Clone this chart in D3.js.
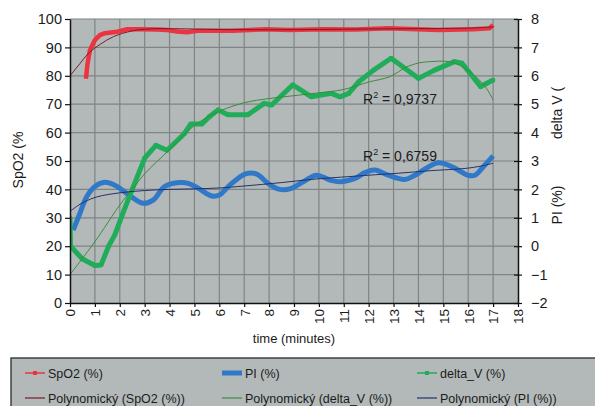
<!DOCTYPE html>
<html>
<head>
<meta charset="utf-8">
<script src="https://cdn.jsdelivr.net/npm/d3@7/dist/d3.min.js"></script>
<style>
  html, body { margin: 0; padding: 0; background: #ffffff; }
  svg { display: block; font-family: "Liberation Sans", Arial, sans-serif; }
</style>
</head>
<body>
<svg id="chart" width="595" height="406"></svg>
<script>
// Time axis (minutes)
const xTicks = d3.range(0, 19);
const leftTicks = d3.range(0, 101, 10);
const rightTicks = d3.range(-2, 9, 1);

// SpO2 (%) – left axis
const spo2Time = [0.64, 0.7, 0.8, 1.0, 1.2, 1.4, 1.9, 2.3, 2.8, 3.5, 3.9, 4.3, 4.7, 5.2, 6.5, 7.9, 8.8, 10.2, 11.5, 12.8, 14.8, 16.2, 16.85, 17.0];
const spo2Values = [79, 84, 89, 92.6, 94.3, 95, 95.5, 96.4, 96.4, 96.3, 96.1, 95.6, 95.3, 95.9, 95.9, 96.4, 96.1, 96.4, 96.3, 96.7, 96.1, 96.4, 96.7, 97.9];

// PI (%) – right axis
const piTime = [0.13, 0.4, 0.67, 1.0, 1.4, 1.8, 2.28, 2.94, 3.35, 3.8, 4.42, 4.75, 5.15, 5.7, 6.0, 6.36, 7.03, 7.5, 7.96, 8.43, 8.9, 9.37, 9.9, 10.44, 10.84, 11.45, 11.85, 12.25, 12.78, 13.45, 13.86, 14.79, 15.33, 16.0, 16.27, 16.67, 17.0];
const piValues = [0.57, 1.16, 1.74, 2.1, 2.25, 2.15, 1.86, 1.51, 1.63, 2.1, 2.24, 2.21, 2.04, 1.77, 1.8, 2.1, 2.54, 2.54, 2.21, 2.0, 2.04, 2.27, 2.5, 2.33, 2.27, 2.39, 2.59, 2.68, 2.5, 2.35, 2.5, 2.94, 2.8, 2.5, 2.5, 2.86, 3.18];

// delta_V (%) – right axis
const dvTime = [0, 0.02, 0.5, 1.0, 1.25, 1.55, 1.8, 2.1, 2.5, 3.0, 3.45, 3.9, 4.6, 4.85, 5.3, 5.6, 5.95, 6.35, 7.15, 7.8, 8.1, 8.95, 9.7, 10.5, 10.85, 11.2, 11.6, 12.2, 12.9, 14.0, 14.65, 15.45, 15.75, 16.5, 16.75, 17.0];
const dvValues = [1.0, 0.0, -0.45, -0.68, -0.66, 0.0, 0.4, 1.1, 2.0, 3.1, 3.55, 3.38, 3.97, 4.3, 4.3, 4.56, 4.8, 4.63, 4.63, 5.03, 4.97, 5.68, 5.26, 5.38, 5.26, 5.38, 5.79, 6.2, 6.62, 5.91, 6.2, 6.5, 6.44, 5.62, 5.74, 5.85];

// Polynomial trendlines
const spo2TrendTime = [0, 0.4, 0.75, 1.2, 1.75, 2.5, 3.2, 4, 6, 8, 10, 12, 14, 16, 17];
const spo2TrendValues = [80, 84.3, 88, 91, 93.8, 95.8, 96.5, 96.6, 96.3, 96.2, 96.3, 96.5, 96.6, 96.8, 97.2];
const dvTrendTime = [0, 1, 2, 2.5, 3, 4, 5, 6, 7, 8, 9, 10, 11, 12, 12.85, 13.5, 14, 14.5, 15.2, 15.7, 16.3, 16.7, 17];
const dvTrendValues = [-1, 0.16, 1.45, 2.0, 2.55, 3.4, 4.25, 4.75, 5.05, 5.2, 5.3, 5.4, 5.52, 5.78, 5.97, 6.3, 6.45, 6.5, 6.5, 6.35, 5.97, 5.6, 5.15];
const piTrendTime = [0, 0.3, 0.6, 1.1, 2, 3, 4, 5, 6, 7, 8.5, 9.8, 11.2, 12, 13.2, 14.5, 15.9, 16.5, 17];
const piTrendValues = [1.22, 1.42, 1.57, 1.74, 1.88, 1.96, 2.0, 2.02, 2.05, 2.12, 2.24, 2.36, 2.45, 2.5, 2.57, 2.66, 2.74, 2.82, 2.92];

const r2Labels = ["0,9737", "0,6759"];

const legendItems = [
  ["SpO2 (%)", "PI (%)", "delta_V (%)"],
  ["Polynomický (SpO2 (%))", "Polynomický (delta_V (%))", "Polynomický (PI (%))"]
];

const svg = d3.select("#chart");
const plotLeft = 70, plotRight = 518, plotTop = 19, plotBottom = 303;

const x = d3.scaleLinear().domain([0, 18]).range([plotLeft, plotRight]);
const yL = d3.scaleLinear().domain([0, 100]).range([plotBottom, plotTop]);
const yR = d3.scaleLinear().domain([-2, 8]).range([plotBottom, plotTop]);

const colors = {
  spo2: "#ec3340", pi: "#2f79c8", dv: "#20ad5a",
  spo2Trend: "#7b1b2b", dvTrend: "#3c8c3c", piTrend: "#24306e",
  plotBg: "#b3b9b9", grid: "#7f8484", text: "#1b1b1b"
};

// Plot background
svg.append("rect").attr("x", plotLeft).attr("y", plotTop)
  .attr("width", plotRight - plotLeft).attr("height", plotBottom - plotTop)
  .attr("fill", colors.plotBg);

// Gridlines
svg.append("g").selectAll("line").data(xTicks.slice(1, -1)).join("line")
  .attr("x1", d => x(d)).attr("x2", d => x(d))
  .attr("y1", plotTop).attr("y2", plotBottom)
  .attr("stroke", colors.grid).attr("stroke-width", 1.2);
svg.append("g").selectAll("line").data(leftTicks.slice(1)).join("line")
  .attr("x1", plotLeft).attr("x2", plotRight)
  .attr("y1", d => yL(d)).attr("y2", d => yL(d))
  .attr("stroke", colors.grid).attr("stroke-width", 1.2);

svg.append("defs").append("clipPath").attr("id", "plotClip")
  .append("rect").attr("x", plotLeft).attr("y", plotTop - 4)
  .attr("width", plotRight - plotLeft).attr("height", plotBottom - plotTop + 4);

const plot = svg.append("g").attr("clip-path", "url(#plotClip)");

const zipPts = (ts, vs) => ts.map((t, i) => [t, vs[i]]);

const lineL = d3.line().x(d => x(d[0])).y(d => yL(d[1]));
const lineR = d3.line().x(d => x(d[0])).y(d => yR(d[1]));
const smoothR = d3.line().x(d => x(d[0])).y(d => yR(d[1])).curve(d3.curveCatmullRom.alpha(0.5));
const smoothL = d3.line().x(d => x(d[0])).y(d => yL(d[1])).curve(d3.curveCatmullRom.alpha(0.5));

// Measured series
plot.append("path").datum(zipPts(spo2Time, spo2Values))
  .attr("d", lineL).attr("fill", "none")
  .attr("stroke", colors.spo2).attr("stroke-width", 4.5).attr("stroke-linejoin", "round");

plot.append("path").datum(zipPts(piTime, piValues))
  .attr("d", smoothR).attr("fill", "none")
  .attr("stroke", colors.pi).attr("stroke-width", 5).attr("stroke-linejoin", "round");

const dvPts = zipPts(dvTime, dvValues);
plot.append("path").datum(dvPts)
  .attr("d", lineR).attr("fill", "none")
  .attr("stroke", colors.dv).attr("stroke-width", 5).attr("stroke-linejoin", "round");
plot.append("g").selectAll("rect").data(dvPts).join("rect")
  .attr("x", d => x(d[0]) - 2).attr("y", d => yR(d[1]) - 2)
  .attr("width", 4).attr("height", 4).attr("fill", colors.dv);

// Trendlines
plot.append("path").datum(zipPts(spo2TrendTime, spo2TrendValues))
  .attr("d", smoothL).attr("fill", "none")
  .attr("stroke", colors.spo2Trend).attr("stroke-width", 1);
plot.append("path").datum(zipPts(dvTrendTime, dvTrendValues))
  .attr("d", smoothR).attr("fill", "none")
  .attr("stroke", colors.dvTrend).attr("stroke-width", 1);
plot.append("path").datum(zipPts(piTrendTime, piTrendValues))
  .attr("d", smoothR).attr("fill", "none")
  .attr("stroke", colors.piTrend).attr("stroke-width", 1);

// Axes
const axisStyle = g => {
  g.select(".domain").attr("stroke", "#111").attr("stroke-width", 1.5);
  g.selectAll(".tick line").attr("stroke", "#111").attr("stroke-width", 1.2);
  g.selectAll("text").attr("fill", colors.text).attr("font-family", "Liberation Sans, Arial, sans-serif");
};

svg.append("g").attr("transform", `translate(${plotLeft},0)`)
  .call(d3.axisLeft(yL).tickValues(leftTicks).tickSize(5).tickPadding(3).tickSizeOuter(0))
  .call(axisStyle)
  .selectAll("text").attr("font-size", 14.5);

const rightAxis = svg.append("g").attr("transform", `translate(${plotRight},0)`)
  .call(d3.axisRight(yR).tickValues(rightTicks).tickSize(4).tickPadding(9).tickSizeOuter(0))
  .call(axisStyle);
rightAxis.selectAll("text").attr("font-size", 14.5);
rightAxis.selectAll(".tick").append("line")
  .attr("x1", -4).attr("x2", 0).attr("stroke", "#111").attr("stroke-width", 1.2);

const bottomAxis = svg.append("g").attr("transform", `translate(0,${plotBottom})`)
  .call(d3.axisBottom(x).tickValues(xTicks).tickSize(4).tickSizeOuter(0))
  .call(axisStyle);
bottomAxis.selectAll("text")
  .attr("font-size", 13.5)
  .attr("transform", "rotate(-90)")
  .attr("x", -6).attr("y", 0).attr("dy", "0.36em")
  .attr("text-anchor", "end");

// Axis titles
svg.append("text").attr("transform", "translate(23,160) rotate(-90)")
  .attr("text-anchor", "middle").attr("font-size", 14).attr("fill", colors.text)
  .text("SpO2 (%");
svg.append("text").attr("transform", "translate(562,113) rotate(-90)")
  .attr("text-anchor", "middle").attr("font-size", 14).attr("fill", colors.text)
  .text("delta V (");
svg.append("text").attr("transform", "translate(562,205) rotate(-90)")
  .attr("text-anchor", "middle").attr("font-size", 14).attr("fill", colors.text)
  .text("PI (%)");
svg.append("text").attr("x", x(9)).attr("y", 343)
  .attr("text-anchor", "middle").attr("font-size", 13).attr("fill", colors.text)
  .text("time (minutes)");

// R² annotations
const r2Pos = [[363, 104], [363, 161]];
r2Labels.forEach((v, i) => {
  const t = svg.append("text").attr("x", r2Pos[i][0]).attr("y", r2Pos[i][1])
    .attr("font-size", 14).attr("fill", colors.text);
  t.append("tspan").text("R");
  t.append("tspan").attr("font-size", 9).attr("dy", -6).text("2");
  t.append("tspan").attr("dy", 6).text(" = " + v);
});

// Legend
const legend = svg.append("g");
legend.append("rect").attr("x", 11).attr("y", 358).attr("width", 600).attr("height", 60)
  .attr("fill", colors.plotBg).attr("stroke", "#2a2a2a").attr("stroke-width", 1.3);

const legendCols = [25, 222, 417];
const legendRows = [373, 398];
const legendStyles = [
  [{ c: colors.spo2, w: 1.5, m: true }, { c: colors.pi, w: 5, m: false }, { c: colors.dv, w: 1.5, m: true }],
  [{ c: colors.spo2Trend, w: 1.2 }, { c: colors.dvTrend, w: 1.2 }, { c: colors.piTrend, w: 1.2 }]
];
legendItems.forEach((row, r) => {
  row.forEach((label, c) => {
    const gx = legendCols[c], gy = legendRows[r];
    const st = legendStyles[r][c];
    legend.append("line").attr("x1", gx).attr("x2", gx + 20).attr("y1", gy).attr("y2", gy)
      .attr("stroke", st.c).attr("stroke-width", st.w);
    if (st.m) {
      legend.append("rect").attr("x", gx + 8).attr("y", gy - 2).attr("width", 4).attr("height", 4)
        .attr("fill", st.c);
    }
    legend.append("text").attr("x", gx + 23).attr("y", gy + 4.5)
      .attr("font-size", 12.5).attr("fill", colors.text).text(label);
  });
});
</script>
</body>
</html>
